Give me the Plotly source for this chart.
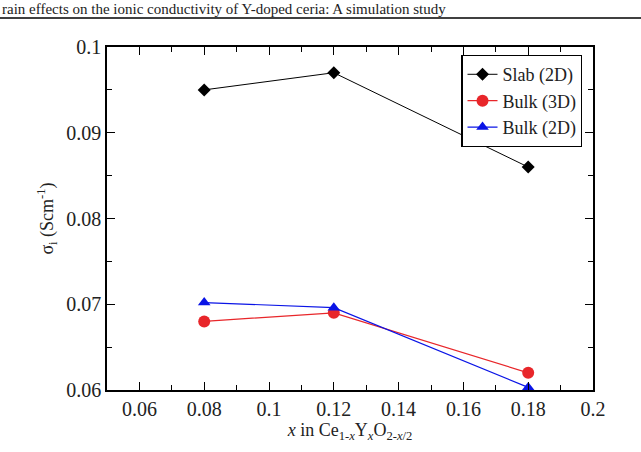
import plotly.graph_objects as go

x_vals = [0.08, 0.12, 0.18]
slab_2d = [0.095, 0.097, 0.086]
bulk_3d = [0.068, 0.069, 0.062]
bulk_2d = [0.0702, 0.0696, 0.0603]

x_ticks = [0.06, 0.08, 0.1, 0.12, 0.14, 0.16, 0.18, 0.2]
x_tick_labels = ["0.06", "0.08", "0.1", "0.12", "0.14", "0.16", "0.18", "0.2"]
y_ticks = [0.06, 0.07, 0.08, 0.09, 0.1]
y_tick_labels = ["0.06", "0.07", "0.08", "0.09", "0.1"]

FONT = "Times New Roman, Liberation Serif, serif"

fig = go.Figure()
fig.add_trace(go.Scatter(x=x_vals, y=slab_2d, name="Slab (2D)", mode="lines+markers",
                         line=dict(color="black", width=1),
                         marker=dict(symbol="diamond", size=10, color="black")))
fig.add_trace(go.Scatter(x=x_vals, y=bulk_3d, name="Bulk (3D)", mode="lines+markers",
                         line=dict(color="#e8262a", width=1.2),
                         marker=dict(symbol="circle", size=12, color="#e8262a")))
fig.add_trace(go.Scatter(x=x_vals, y=bulk_2d, name="Bulk (2D)", mode="lines+markers",
                         line=dict(color="#0a14e6", width=1.2),
                         marker=dict(symbol="triangle-up", size=11, color="#0a14e6")))

axis_common = dict(showline=True, linecolor="black", linewidth=1.5, mirror="ticks",
                   ticks="inside", ticklen=8, tickwidth=1.2, tickcolor="black",
                   showgrid=False, zeroline=False,
                   tickfont=dict(family=FONT, size=20, color="#222"))

fig.update_xaxes(range=[0.05, 0.2], tickvals=x_ticks, ticktext=x_tick_labels,
                 minor=dict(ticks="inside", ticklen=5, dtick=0.01, tick0=0.05, tickcolor="black", tickwidth=1),
                 title=dict(text="<i>x</i> in Ce<sub>1-<i>x</i></sub>Y<sub><i>x</i></sub>O<sub>2-<i>x</i>/2</sub>",
                            font=dict(family=FONT, size=18, color="#222"), standoff=4),
                 **axis_common)
fig.update_yaxes(range=[0.06, 0.1], tickvals=y_ticks, ticktext=y_tick_labels,
                 minor=dict(ticks="inside", ticklen=5, dtick=0.005, tick0=0.06, tickcolor="black", tickwidth=1),
                 title=dict(text="σ<sub>i</sub> (Scm<sup>-1</sup>)",
                            font=dict(family=FONT, size=18, color="#222"), standoff=8),
                 **axis_common)

fig.update_layout(
    width=641, height=452,
    margin=dict(l=107, r=48, t=47, b=62),
    plot_bgcolor="white", paper_bgcolor="white",
    font=dict(family=FONT, size=18, color="#222"),
    legend=dict(x=0.978, y=0.977, xanchor="right", yanchor="top",
                bordercolor="black", borderwidth=1.2, bgcolor="white",
                font=dict(family=FONT, size=18, color="#222"),
                itemwidth=30, tracegroupgap=0),
    shapes=[dict(type="line", xref="paper", yref="paper",
                 x0=-107/486, x1=(641-107)/486, y0=(452-62-18)/343, y1=(452-62-18)/343,
                 line=dict(color="black", width=1.5))],
    annotations=[dict(text="rain effects on the ionic conductivity of Y-doped ceria: A simulation study",
                      xref="paper", yref="paper", x=-107/486, y=(452-62-9)/343,
                      xanchor="left", yanchor="middle", showarrow=False,
                      font=dict(family=FONT, size=15, color="#222"))],
)

fig.write_html("out.html")
